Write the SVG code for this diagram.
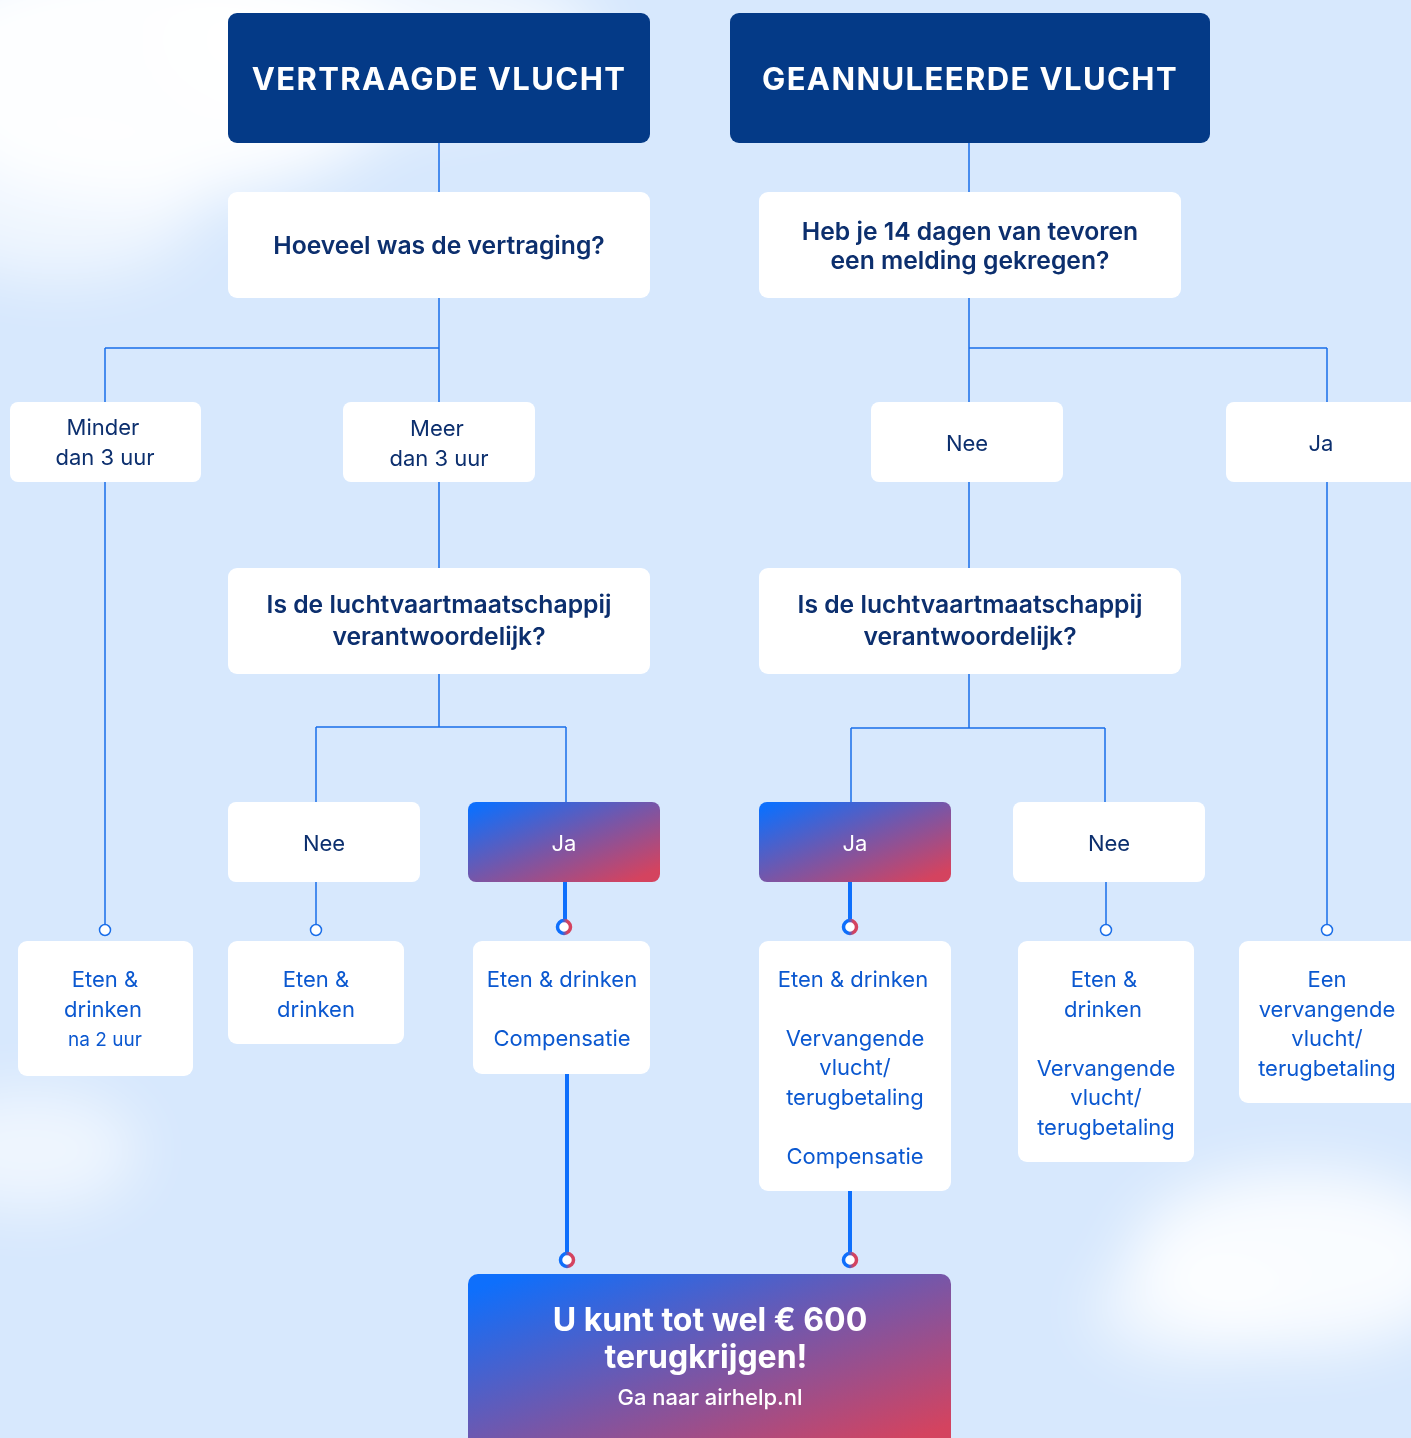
<svg xmlns="http://www.w3.org/2000/svg" width="1411" height="1438" viewBox="0 0 1411 1438">
<defs>
<linearGradient id="grad" x1="0" y1="0" x2="1" y2="1">
<stop offset="0.05" stop-color="#0e6ffc"/>
<stop offset="0.5" stop-color="#7756a8"/>
<stop offset="0.92" stop-color="#d4435f"/>
</linearGradient>
<linearGradient id="ringgrad" x1="0" y1="0" x2="1" y2="0">
<stop offset="0.35" stop-color="#0e6ffc"/>
<stop offset="0.75" stop-color="#d4435f"/>
</linearGradient>
<filter id="blur" x="-50%" y="-50%" width="200%" height="200%"><feGaussianBlur stdDeviation="30"/></filter>
<style>
.bg{fill:#d7e8fd}
.head{fill:#043a87}
.box{fill:#ffffff}
.ht{font-family:Inter,"Liberation Sans",sans-serif;font-weight:700;font-size:31px;fill:#ffffff;letter-spacing:1.4px;text-anchor:middle}
.q{font-family:Inter,"Liberation Sans",sans-serif;font-weight:600;font-size:24.7px;fill:#0c2f6e;text-anchor:middle}
.a{font-family:Inter,"Liberation Sans",sans-serif;font-weight:400;font-size:22px;fill:#0c2f6e;text-anchor:middle}
.aw{font-family:Inter,"Liberation Sans",sans-serif;font-weight:400;font-size:22px;fill:#ffffff;text-anchor:middle}
.r{font-family:Inter,"Liberation Sans",sans-serif;font-weight:400;font-size:22px;fill:#0b58d0;text-anchor:middle}
.rs{font-family:Inter,"Liberation Sans",sans-serif;font-weight:400;font-size:19px;fill:#0b58d0;text-anchor:middle}
.big{font-family:Inter,"Liberation Sans",sans-serif;font-weight:700;font-size:32px;fill:#ffffff;text-anchor:middle}
.sub{font-family:Inter,"Liberation Sans",sans-serif;font-weight:500;font-size:22px;fill:#ffffff;text-anchor:middle}
.ln{fill:none;stroke:#1a6ee9;stroke-width:1.5}
.th{fill:none;stroke:#0e6ffc;stroke-width:4}
.dot{fill:#ffffff;stroke:#1a6ee9;stroke-width:1.5}
.ring{fill:#ffffff;stroke:url(#ringgrad);stroke-width:3.5}
</style>
</defs>
<rect class="bg" x="0" y="0" width="1411" height="1438"/>
<g id="clouds" filter="url(#blur)" fill="#ffffff">
<ellipse cx="150" cy="70" rx="260" ry="130" opacity="0.95"/>
<ellipse cx="380" cy="40" rx="220" ry="80" opacity="0.7"/>
<ellipse cx="60" cy="210" rx="140" ry="70" opacity="0.6"/>
<ellipse cx="30" cy="1150" rx="110" ry="60" opacity="0.6"/>
<ellipse cx="1300" cy="1260" rx="170" ry="90" opacity="0.85"/>
<ellipse cx="1190" cy="1310" rx="100" ry="50" opacity="0.6"/>
</g>
<g id="connectors">
<path class="ln" d="M439 143V192M439 298V402M105 348H439M105 348V402M439 482V568M105 482V924M439 674V727M316 727H566M316 727V802M566 727V802M316 882V924"/>
<path class="ln" d="M969 143V192M969 298V402M969 348H1327M1327 348V402M969 482V568M1327 482V924M969 674V728M851 728H1105M851 728V802M1105 728V802M1106 882V924"/>
<path class="th" d="M565 882V920M567 1074V1253M850 882V920M850 1191V1253"/>
<circle class="dot" cx="105" cy="930" r="5.5"/>
<circle class="dot" cx="316" cy="930" r="5.5"/>
<circle class="dot" cx="1106" cy="930" r="5.5"/>
<circle class="dot" cx="1327" cy="930" r="5.5"/>
<circle class="ring" cx="564" cy="927" r="6.5"/>
<circle class="ring" cx="850" cy="927" r="6.5"/>
<circle class="ring" cx="567" cy="1260" r="6.5"/>
<circle class="ring" cx="850" cy="1260" r="6.5"/>
</g>
<g id="n-vertraagd"><rect class="head" x="228" y="13" width="422" height="130" rx="9"/><text class="ht" x="439" y="90">VERTRAAGDE VLUCHT</text></g>
<g id="n-geannuleerd"><rect class="head" x="730" y="13" width="480" height="130" rx="9"/><text class="ht" x="970" y="90">GEANNULEERDE VLUCHT</text></g>
<g id="n-hoeveel"><rect class="box" x="228" y="192" width="422" height="106" rx="9"/><text class="q" x="439" y="254">Hoeveel was de vertraging?</text></g>
<g id="n-heb"><rect class="box" x="759" y="192" width="422" height="106" rx="9"/><text class="q" x="970" y="240">Heb je 14 dagen van tevoren</text><text class="q" x="970" y="269">een melding gekregen?</text></g>
<g id="n-minder"><rect class="box" x="10" y="402" width="191" height="80" rx="8"/><text class="a" x="103" y="435">Minder</text><text class="a" x="105" y="465">dan 3 uur</text></g>
<g id="n-meer"><rect class="box" x="343" y="402" width="192" height="80" rx="8"/><text class="a" x="437" y="436">Meer</text><text class="a" x="439" y="466">dan 3 uur</text></g>
<g id="n-nee1"><rect class="box" x="871" y="402" width="192" height="80" rx="8"/><text class="a" x="967" y="451">Nee</text></g>
<g id="n-ja1"><rect class="box" x="1226" y="402" width="195" height="80" rx="8"/><text class="a" x="1321" y="451">Ja</text></g>
<g id="n-lucht1"><rect class="box" x="228" y="568" width="422" height="106" rx="9"/><text class="q" x="439" y="613">Is de luchtvaartmaatschappij</text><text class="q" x="439" y="645">verantwoordelijk?</text></g>
<g id="n-lucht2"><rect class="box" x="759" y="568" width="422" height="106" rx="9"/><text class="q" x="970" y="613">Is de luchtvaartmaatschappij</text><text class="q" x="970" y="645">verantwoordelijk?</text></g>
<g id="n-nee2"><rect class="box" x="228" y="802" width="192" height="80" rx="8"/><text class="a" x="324" y="851">Nee</text></g>
<g id="n-ja2"><rect fill="url(#grad)" x="468" y="802" width="192" height="80" rx="8"/><text class="aw" x="564" y="851">Ja</text></g>
<g id="n-ja3"><rect fill="url(#grad)" x="759" y="802" width="192" height="80" rx="8"/><text class="aw" x="855" y="851">Ja</text></g>
<g id="n-nee3"><rect class="box" x="1013" y="802" width="192" height="80" rx="8"/><text class="a" x="1109" y="851">Nee</text></g>
<g id="r1"><rect class="box" x="18" y="941" width="175" height="135" rx="9"/><text class="r" x="105" y="987">Eten &amp;</text><text class="r" x="103" y="1017">drinken</text><text class="rs" x="105" y="1046">na 2 uur</text></g>
<g id="r2"><rect class="box" x="228" y="941" width="176" height="103" rx="9"/><text class="r" x="316" y="987">Eten &amp;</text><text class="r" x="316" y="1017">drinken</text></g>
<g id="r3"><rect class="box" x="473" y="941" width="177" height="133" rx="9"/><text class="r" x="562" y="987">Eten &amp; drinken</text><text class="r" x="562" y="1046">Compensatie</text></g>
<g id="r4"><rect class="box" x="759" y="941" width="192" height="250" rx="9"/><text class="r" x="853" y="987">Eten &amp; drinken</text><text class="r" x="855" y="1046">Vervangende</text><text class="r" x="855" y="1075">vlucht/</text><text class="r" x="855" y="1105">terugbetaling</text><text class="r" x="855" y="1164">Compensatie</text></g>
<g id="r5"><rect class="box" x="1018" y="941" width="176" height="221" rx="9"/><text class="r" x="1104" y="987">Eten &amp;</text><text class="r" x="1103" y="1017">drinken</text><text class="r" x="1106" y="1076">Vervangende</text><text class="r" x="1106" y="1105">vlucht/</text><text class="r" x="1106" y="1135">terugbetaling</text></g>
<g id="r6"><rect class="box" x="1239" y="941" width="180" height="162" rx="9"/><text class="r" x="1327" y="987">Een</text><text class="r" x="1327" y="1017">vervangende</text><text class="r" x="1327" y="1046">vlucht/</text><text class="r" x="1327" y="1076">terugbetaling</text></g>
<g id="n-result"><rect fill="url(#grad)" x="468" y="1274" width="483" height="180" rx="10"/><text class="big" x="710" y="1331">U kunt tot wel € 600</text><text class="big" x="706" y="1368">terugkrijgen!</text><text class="sub" x="710" y="1405">Ga naar airhelp.nl</text></g>
</svg>
